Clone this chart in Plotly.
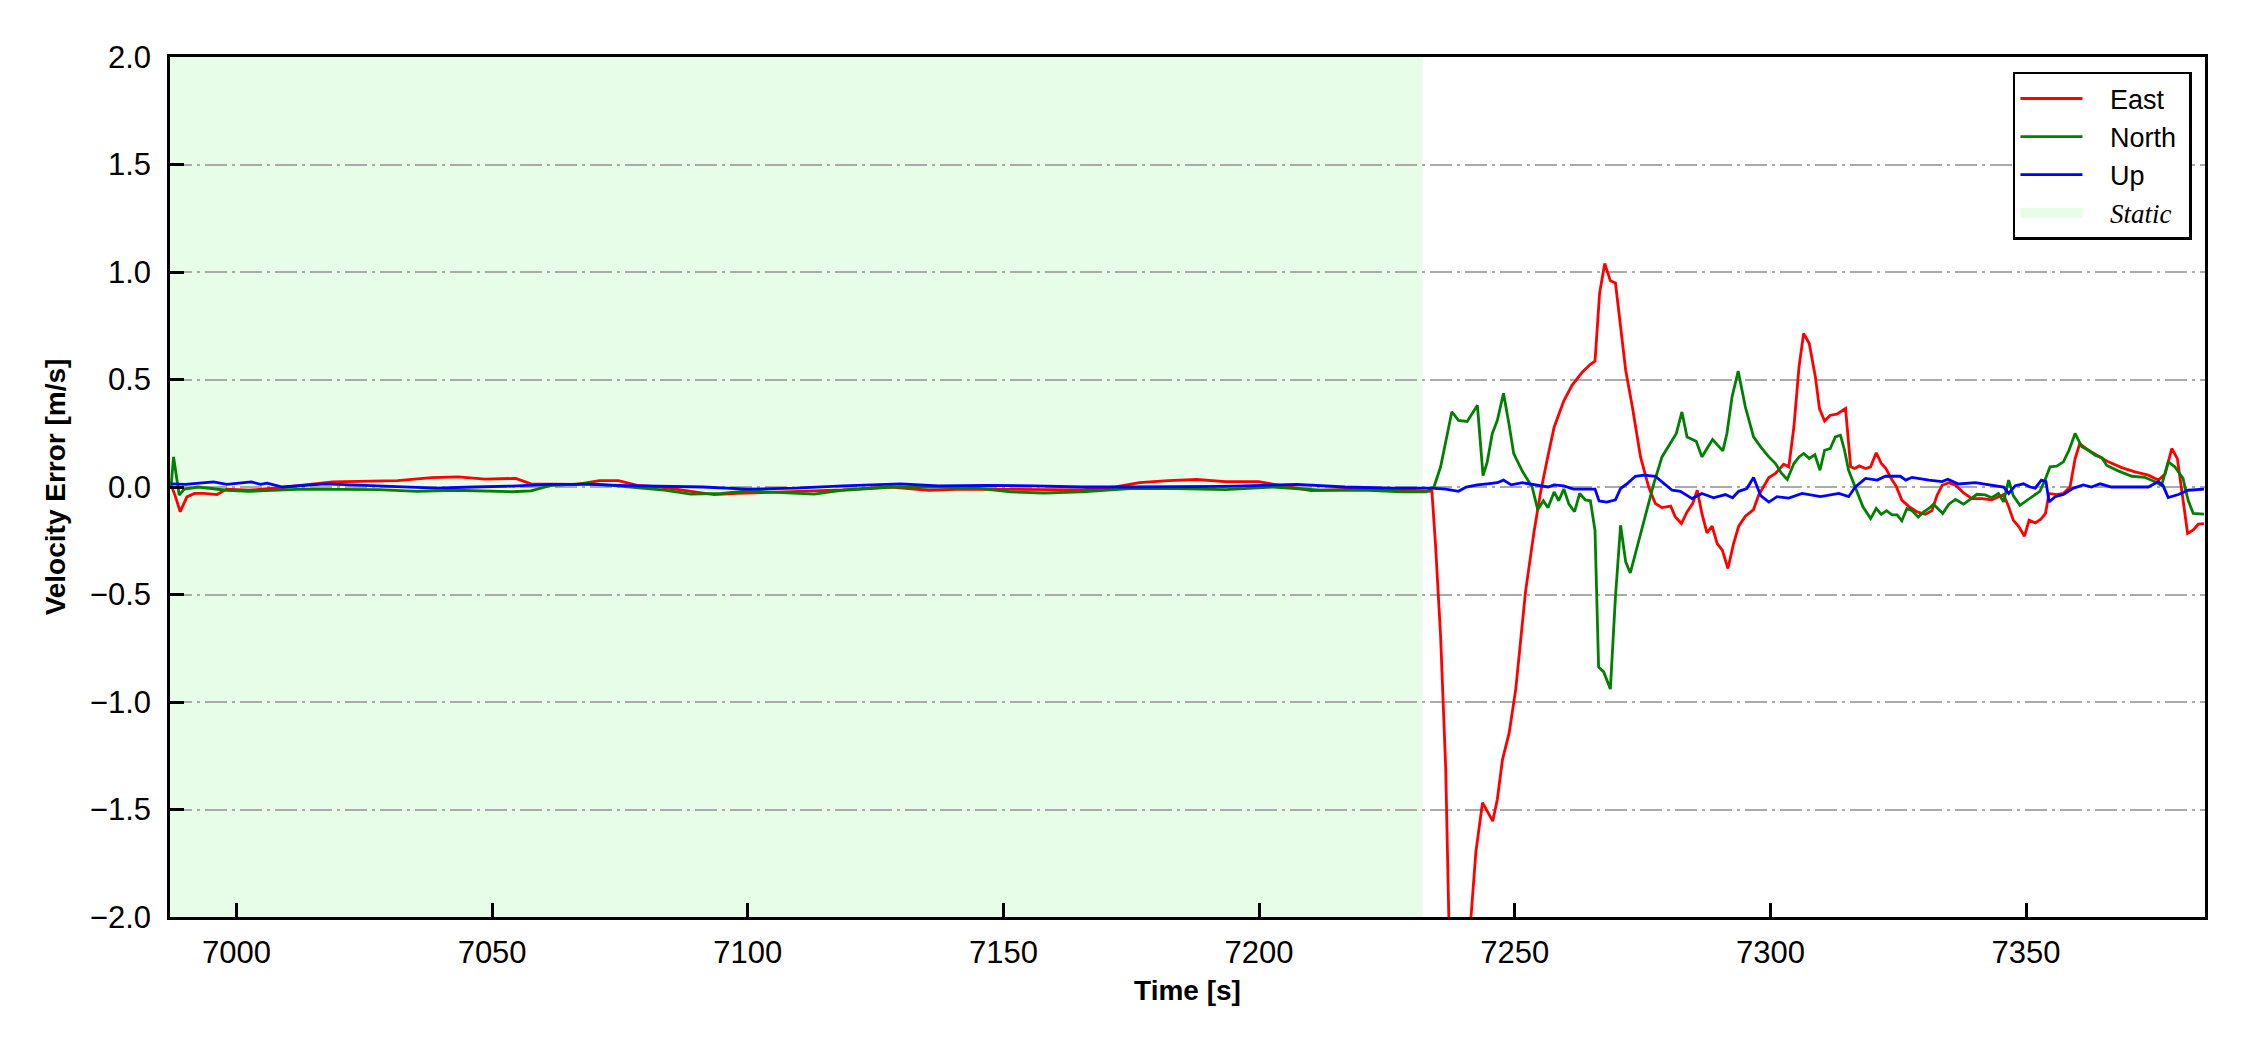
import plotly.graph_objects as go

# ---------------- data ----------------
static_start = 6987.0
static_end = 7232.0
x_range = [6987.0, 7385.0]
y_range = [-2.0, 2.0]
x_ticks = [7000, 7050, 7100, 7150, 7200, 7250, 7300, 7350]

t_east = [6987.2, 6988.0, 6989.0, 6990.3, 6991.8, 6993.6, 6996.2, 6998.1, 7002.5, 7009.8,
          7018.8, 7024.8, 7031.5, 7038.2, 7043.4, 7048.6, 7054.6, 7057.6, 7062.0, 7066.5,
          7071.0, 7074.7, 7078.4, 7082.9, 7088.9, 7093.4, 7097.9, 7109.3, 7118.6, 7128.0,
          7135.4, 7142.0, 7150.4, 7157.9, 7165.3, 7171.9, 7176.6, 7182.2, 7187.8, 7193.4,
          7199.9, 7204.6, 7210.2, 7215.8, 7221.4, 7227.0, 7232.7, 7233.8, 7234.5, 7235.5,
          7236.5, 7237.5, 7239.0, 7240.5, 7242.4, 7243.7, 7245.7, 7246.6, 7247.6, 7248.9,
          7250.2, 7252.1, 7253.8, 7255.1, 7256.4, 7257.7, 7259.6, 7261.2, 7263.2, 7264.8,
          7265.7, 7266.6, 7267.6, 7268.7, 7269.7, 7271.7, 7273.0, 7274.6, 7276.2, 7277.5,
          7278.8, 7280.5, 7281.4, 7282.6, 7283.7, 7284.8, 7285.7, 7286.6, 7287.6, 7288.6,
          7289.6, 7290.6, 7291.7, 7292.8, 7293.8, 7295.1, 7296.7, 7297.7, 7299.7, 7301.0,
          7302.6, 7303.6, 7304.6, 7305.6, 7306.5, 7307.6, 7308.8, 7309.6, 7310.6, 7311.7,
          7313.0, 7314.7, 7315.7, 7316.5, 7317.4, 7318.6, 7319.6, 7320.7, 7321.7, 7322.6,
          7323.8, 7324.6, 7325.7, 7327.0, 7328.7, 7330.3, 7331.6, 7332.6, 7333.6, 7334.9,
          7336.2, 7337.8, 7339.4, 7341.4, 7343.3, 7344.6, 7345.6, 7346.6, 7347.5, 7348.6,
          7349.7, 7350.6, 7351.8, 7352.9, 7353.8, 7354.5, 7356.0, 7357.3, 7358.6, 7359.6,
          7360.5, 7362.2, 7364.1, 7366.1, 7368.7, 7371.3, 7373.9, 7375.9, 7377.2, 7378.5,
          7379.6, 7380.4, 7381.6, 7382.7, 7383.7, 7384.8]
east = [0.01, -0.04, -0.115, -0.046, -0.03, -0.03, -0.035, -0.01, -0.015, 0.0,
        0.024, 0.026, 0.03, 0.044, 0.047, 0.037, 0.04, 0.015, 0.015, 0.012,
        0.03, 0.03, 0.008, 0.0, -0.02, -0.035, -0.03, -0.02, -0.013, 0.0,
        -0.015, -0.01, -0.01, -0.013, -0.013, 0.0, 0.02, 0.03, 0.035, 0.025,
        0.025, 0.005, -0.017, -0.012, -0.008, -0.012, -0.017, -0.02, -0.265, -0.694,
        -1.308, -2.45, -2.9, -2.3, -1.697, -1.468, -1.554, -1.452, -1.268, -1.145,
        -0.94, -0.489, -0.203, -0.019, 0.134, 0.278, 0.401, 0.473, 0.534, 0.571,
        0.585, 0.902, 1.04, 0.959, 0.949, 0.543, 0.373, 0.14, 0.0, -0.077,
        -0.096, -0.089, -0.139, -0.17, -0.116, -0.077, -0.015, -0.123, -0.213, -0.182,
        -0.263, -0.294, -0.379, -0.263, -0.182, -0.136, -0.105, -0.038, 0.044, 0.063,
        0.106, 0.094, 0.28, 0.559, 0.714, 0.667, 0.512, 0.365, 0.307, 0.334,
        0.339, 0.365, 0.094, 0.086, 0.098, 0.086, 0.094, 0.159, 0.109, 0.086,
        0.032, 0.004, -0.061, -0.089, -0.116, -0.127, -0.11, -0.038, 0.008, 0.02,
        0.008, -0.027, -0.054, -0.054, -0.06, -0.045, -0.035, -0.092, -0.154, -0.185,
        -0.229, -0.154, -0.167, -0.15, -0.123, -0.03, -0.035, -0.03, 0.0, 0.132,
        0.202, 0.171, 0.146, 0.117, 0.09, 0.07, 0.055, 0.032, 0.06, 0.179,
        0.132, 0.0, -0.216, -0.2, -0.173, -0.17]

t_north = [6987.2, 6987.7, 6988.8, 6989.8, 6992.5, 6998.1, 7002.5, 7012.9, 7027.8, 7035.3,
           7042.7, 7053.9, 7057.6, 7061.3, 7068.8, 7076.3, 7083.7, 7088.9, 7094.9, 7099.9,
           7109.3, 7113.0, 7118.6, 7128.0, 7137.3, 7144.8, 7151.4, 7157.9, 7165.3, 7171.0,
           7174.7, 7184.1, 7193.4, 7202.8, 7212.1, 7221.4, 7228.0, 7232.7, 7234.2, 7235.5,
           7237.7, 7239.0, 7240.7, 7242.7, 7243.8, 7244.6, 7245.6, 7246.6, 7247.8, 7248.9,
           7249.8, 7251.5, 7253.4, 7254.5, 7255.6, 7256.5, 7257.7, 7258.6, 7259.6, 7260.6,
           7261.7, 7262.7, 7263.8, 7264.8, 7265.7, 7266.4, 7267.4, 7268.7, 7269.7, 7270.7,
           7271.7, 7272.6, 7274.3, 7275.9, 7277.2, 7278.8, 7280.5, 7281.6, 7282.7, 7283.7,
           7285.5, 7286.6, 7287.6, 7288.7, 7290.7, 7291.5, 7292.5, 7293.7, 7295.1, 7296.7,
           7298.1, 7299.7, 7301.0, 7302.2, 7303.3, 7304.6, 7305.6, 7306.5, 7307.6, 7308.7,
           7309.7, 7310.6, 7311.7, 7312.7, 7313.7, 7314.5, 7315.3, 7316.6, 7318.1, 7319.6,
           7320.7, 7321.7, 7322.7, 7323.8, 7324.8, 7325.7, 7326.7, 7327.7, 7328.9, 7330.0,
           7331.0, 7331.9, 7333.7, 7334.9, 7336.2, 7337.8, 7339.1, 7340.4, 7342.0, 7343.3,
           7344.6, 7345.6, 7346.6, 7347.5, 7348.8, 7350.1, 7351.4, 7352.7, 7353.7, 7354.7,
           7356.0, 7357.3, 7358.4, 7359.6, 7360.9, 7362.2, 7363.5, 7364.8, 7365.8, 7368.0,
           7370.7, 7373.2, 7375.2, 7376.5, 7377.8, 7379.1, 7380.7, 7381.7, 7382.7, 7384.8]
north = [0.0, 0.14, -0.038, -0.01, 0.0, -0.015, -0.02, -0.01, -0.012, -0.02,
         -0.015, -0.022, -0.018, 0.006, 0.017, 0.0, -0.015, -0.033, -0.03, -0.018,
         -0.03, -0.033, -0.015, 0.0, 0.0, -0.005, -0.023, -0.028, -0.023, -0.015,
         -0.008, -0.008, -0.012, 0.0, -0.015, -0.015, -0.023, -0.023, 0.0, 0.094,
         0.35, 0.31, 0.305, 0.38, 0.053, 0.114, 0.248, 0.31, 0.436, 0.29,
         0.155, 0.073, 0.0, -0.105, -0.064, -0.097, -0.023, -0.064, -0.009, -0.08,
         -0.115, -0.03, -0.06, -0.064, -0.203, -0.837, -0.86, -0.94, -0.51, -0.178,
         -0.348, -0.40, -0.247, -0.092, 0.016, 0.14, 0.205, 0.249, 0.349, 0.233,
         0.213, 0.14, 0.179, 0.221, 0.168, 0.249, 0.419, 0.539, 0.373, 0.233,
         0.187, 0.14, 0.109, 0.063, 0.035, 0.109, 0.14, 0.156, 0.133, 0.15,
         0.078, 0.171, 0.179, 0.233, 0.241, 0.171, 0.078, 0.0, -0.092, -0.147,
         -0.1, -0.127, -0.11, -0.13, -0.13, -0.157, -0.1, -0.11, -0.14, -0.116,
         -0.1, -0.08, -0.123, -0.08, -0.058, -0.08, -0.058, -0.034, -0.037, -0.05,
         -0.03, -0.069, 0.032, -0.04, -0.085, -0.062, -0.04, -0.02, 0.032, 0.094,
         0.097, 0.117, 0.171, 0.249, 0.187, 0.171, 0.148, 0.136, 0.1, 0.075,
         0.05, 0.045, 0.025, 0.006, 0.117, 0.094, 0.04, -0.062, -0.123, -0.126]

t_up = [6987.2, 6990.0, 6995.5, 6998.1, 7002.9, 7004.7, 7006.0, 7009.0, 7017.3, 7024.0,
        7031.5, 7039.0, 7046.4, 7053.9, 7061.3, 7068.8, 7076.3, 7083.7, 7091.2, 7099.9,
        7109.3, 7118.6, 7129.9, 7137.3, 7146.7, 7156.0, 7165.3, 7174.7, 7184.1, 7193.4,
        7207.4, 7216.8, 7226.1, 7233.6, 7236.5, 7239.0, 7240.5, 7242.7, 7244.6, 7246.6,
        7247.8, 7249.3, 7251.5, 7253.8, 7256.5, 7257.7, 7259.6, 7261.5, 7265.7, 7266.5,
        7268.0, 7269.7, 7270.7, 7272.0, 7273.6, 7275.3, 7277.5, 7279.2, 7280.8, 7282.4,
        7284.7, 7286.6, 7288.9, 7291.2, 7292.6, 7293.8, 7295.4, 7296.7, 7298.1, 7299.7,
        7301.3, 7303.6, 7306.2, 7309.8, 7313.4, 7315.3, 7316.6, 7318.6, 7320.9, 7322.5,
        7325.4, 7326.5, 7327.7, 7331.0, 7333.6, 7334.7, 7336.8, 7340.1, 7344.6, 7345.6,
        7346.6, 7347.9, 7349.5, 7350.8, 7351.8, 7353.0, 7353.9, 7354.5, 7355.7, 7357.3,
        7359.3, 7361.2, 7362.8, 7364.5, 7366.7, 7370.7, 7373.9, 7375.9, 7376.8, 7377.8,
        7379.8, 7381.7, 7384.8]
up = [0.015, 0.012, 0.024, 0.012, 0.024, 0.012, 0.018, 0.0, 0.015, 0.008,
      0.0, -0.005, 0.0, 0.004, 0.012, 0.012, 0.006, 0.004, 0.0, -0.01,
      -0.005, 0.005, 0.015, 0.005, 0.008, 0.005, 0.0, 0.0, 0.0, 0.003,
      0.012, 0.0, -0.005, -0.005, -0.01, -0.02, 0.0, 0.01, 0.015, 0.02,
      0.032, 0.01, 0.02, 0.01, 0.0, 0.01, 0.005, -0.01, -0.01, -0.065,
      -0.07, -0.06, -0.007, 0.016, 0.05, 0.055, 0.05, 0.016, -0.015, -0.02,
      -0.054, -0.03, -0.05, -0.035, -0.05, -0.02, -0.007, 0.044, -0.04, -0.07,
      -0.045, -0.052, -0.03, -0.045, -0.03, -0.045, 0.0, 0.04, 0.032, 0.05,
      0.05, 0.032, 0.045, 0.032, 0.025, 0.036, 0.014, 0.02, 0.006, 0.0,
      -0.03, 0.006, 0.015, 0.0, -0.005, 0.032, 0.025, -0.069, -0.045, -0.035,
      -0.005, 0.01, 0.0, 0.015, 0.0, 0.0, 0.0, 0.025, 0.006, -0.049,
      -0.035, -0.015, -0.01]

# ---------------- styles ----------------
FONT = "Liberation Sans, Arial, sans-serif"
static_color = "#e7fde7"
NB = "\u00a0\u00a0\u00a0"

fig = go.Figure()

series = [("East", t_east, east, "#ff0000"),
          ("North", t_north, north, "#008000"),
          ("Up", t_up, up, "#0000ff")]
for name, tx, vy, col in series:
    fig.add_trace(go.Scatter(x=tx, y=vy, mode="lines", name=NB + name + "\u00a0",
                             line=dict(color=col, width=2.8)))

# legend-only entry for the static period
fig.add_trace(go.Scatter(x=[None], y=[None], mode="lines",
                         name=NB + "<span style=\"font-family:Liberation Serif;font-style:italic\">Static</span>",
                         line=dict(color=static_color, width=21)))

fig.add_shape(type="rect", xref="x", yref="y", x0=static_start, x1=static_end,
              y0=y_range[0], y1=y_range[1], fillcolor=static_color,
              line=dict(width=0), layer="below")

fig.update_layout(
    width=2250, height=1050,
    margin=dict(l=170, r=45, t=57, b=133, pad=0),
    paper_bgcolor="white", plot_bgcolor="white",
    font=dict(family=FONT, size=31, color="black"),
    showlegend=True,
    legend=dict(x=0.9936, y=0.9826, xanchor="right", yanchor="top",
                bgcolor="white", bordercolor="black", borderwidth=2.5,
                font=dict(family=FONT, size=27, color="black"),
                itemwidth=62, tracegroupgap=0),
)

fig.update_xaxes(range=x_range, tickvals=x_ticks, ticks="inside", ticklen=14,
                 tickwidth=2.5, tickcolor="black", showline=True, linecolor="black",
                 linewidth=2.5, mirror=True, showgrid=False, zeroline=False,
                 automargin=False,
                 tickfont=dict(family=FONT, size=31), ticklabelstandoff=6,
                 title=dict(text="<b>Time [s]</b>", font=dict(family=FONT, size=28),
                            standoff=12))
fig.update_yaxes(range=y_range, dtick=0.5, tick0=0, tickformat=".1f", ticks="inside",
                 ticklen=14, tickwidth=2.5, tickcolor="black", showline=True,
                 linecolor="black", linewidth=2.5, mirror=True, showgrid=True,
                 gridcolor="#aaaaaa", gridwidth=2, griddash="22px,5px,3px,5px",
                 zeroline=False, automargin=False,
                 tickfont=dict(family=FONT, size=31),
                 ticklabelstandoff=10,
                 title=dict(text="<b>Velocity Error [m/s]</b>",
                            font=dict(family=FONT, size=28), standoff=17))

fig.write_html("out.html", config={"displayModeBar": False},
               post_script="document.body.style.margin='0';")
